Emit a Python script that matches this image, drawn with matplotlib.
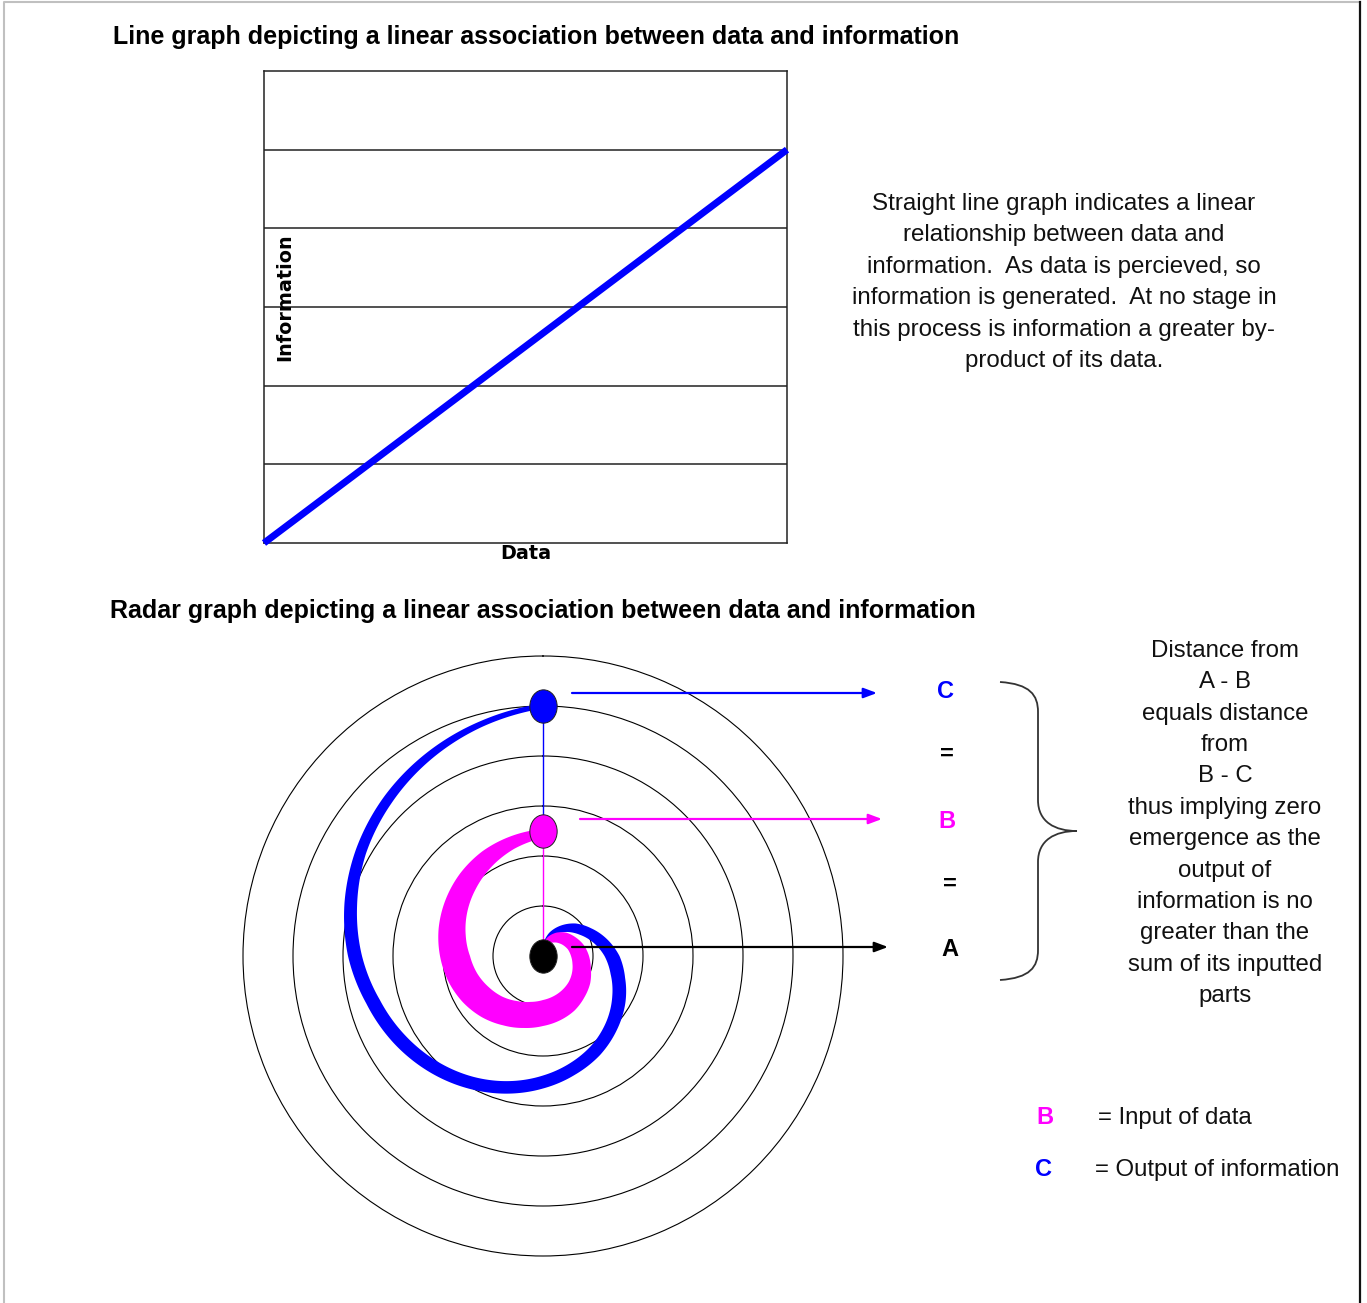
import numpy as np
import matplotlib
matplotlib.use("Agg")
import matplotlib.pyplot as plt
from matplotlib.path import Path
from matplotlib.patches import PathPatch
from matplotlib.transforms import offset_copy

# ---- data: line graph ----
data_x = [0, 1, 2, 3, 4, 5, 6, 7, 8, 9, 10]
info_y = [0, 1, 2, 3, 4, 5, 6, 7, 8, 9, 10]
band_levels = [2, 4, 6, 8, 10]

# ---- data: radar graph (angle clockwise from top, radius in ring units) ----
angle_deg = [0, 15, 30, 45, 60, 75, 90, 105, 120, 135, 150, 165, 180,
             195, 210, 225, 240, 255, 270, 285, 300, 315, 330, 345, 360]
output_r = [0.15, 0.40, 0.60, 0.80, 0.98, 1.18, 1.38, 1.55, 1.75, 1.95, 2.15, 2.33, 2.52,
            2.72, 2.92, 3.12, 3.32, 3.52, 3.76, 3.98, 4.20, 4.40, 4.60, 4.80, 5.00]
output_w = [0.14, 0.16, 0.20, 0.24, 0.26, 0.28, 0.30, 0.30, 0.30, 0.28, 0.27, 0.26, 0.26,
            0.26, 0.26, 0.27, 0.28, 0.28, 0.28, 0.26, 0.22, 0.20, 0.16, 0.12, 0.10]
input_r = [0.15, 0.30, 0.42, 0.52, 0.60, 0.68, 0.74, 0.80, 0.88, 0.95, 1.02, 1.08, 1.14,
           1.22, 1.32, 1.44, 1.55, 1.66, 1.76, 1.88, 2.00, 2.12, 2.24, 2.35, 2.45]
input_w = [0.16, 0.20, 0.24, 0.28, 0.30, 0.33, 0.36, 0.38, 0.42, 0.44, 0.48, 0.50, 0.52,
           0.54, 0.56, 0.58, 0.60, 0.60, 0.60, 0.56, 0.50, 0.44, 0.36, 0.26, 0.18]
ring_levels = [1, 2, 3, 4, 5]
point_names = ["C", "B", "A"]
point_r = [5.0, 2.5, 0.0]
point_colors = ["#0000ff", "#ff00ff", "#000000"]

BLUE = "#0000ff"
MAGENTA = "#ff00ff"
TXT = "#111111"
W, H = 1367, 1303

fig = plt.figure(figsize=(W / 100, H / 100), dpi=100)
fig.patch.set_facecolor("white")


def fx(px):
    return px / W


def fy(py):
    return 1 - py / H


# line graph
ax1 = fig.add_axes([fx(264), fy(543), (787 - 264) / W, (543 - 71) / H])
ax1.plot(data_x, info_y, color=BLUE, lw=5, solid_capstyle="butt", clip_on=False, zorder=3)
ax1.set_xlim(0, 10)
ax1.set_ylim(0, 12)
ax1.set_xticks([])
ax1.set_yticks(band_levels)
ax1.tick_params(left=False, labelleft=False)
ax1.grid(axis="y", color="#222222", lw=1.1)
for sp in ax1.spines.values():
    sp.set_linewidth(1.1)
    sp.set_color("#222222")
ax1.text(0.040, 0.521, "Information", rotation=90, transform=ax1.transAxes,
         ha="center", va="center", fontsize=13.8, fontweight="bold", family="DejaVu Sans")
ax1.text(0.5, -0.002, "Data", transform=ax1.transAxes, ha="center", va="top",
         fontsize=13.8, fontweight="bold", family="DejaVu Sans")

# radar graph
ax2 = fig.add_axes([fx(243), fy(1256), 600 / W, 600 / H], projection="polar")
ax2.set_theta_zero_location("N")
ax2.set_theta_direction(-1)
theta = np.deg2rad(angle_deg)
ax2.set_ylim(0, 6)
ax2.set_xticks([])
ax2.set_yticks(ring_levels)
ax2.set_yticklabels([])
ax2.yaxis.grid(True, color="black", lw=0.8)
ax2.spines["polar"].set_linewidth(0.8)

# spiral bands: outline in (theta, r), curved by the polar transform
for r, w, c in [(output_r, output_w, BLUE), (input_r, input_w, MAGENTA)]:
    r = np.array(r)
    w = np.array(w)
    upper = r + w / 2
    lower = np.maximum(r - w / 2, 0)
    t_all = np.concatenate([theta, theta[::-1], theta[:1]])
    r_all = np.concatenate([upper, lower[::-1], upper[:1]])
    band = Path(np.column_stack([t_all, r_all]), _interpolation_steps=24)
    ax2.add_patch(PathPatch(band, transform=ax2.transData, facecolor=c,
                            edgecolor="none", zorder=3))

# connectors between points
ax2.plot([0, 0], [point_r[1], point_r[0]], color=BLUE, lw=1.0, zorder=4)
ax2.plot([0, 0], [point_r[2], point_r[1]], color=MAGENTA, lw=1.0, zorder=4)

circ = Path.unit_circle()
ellipse = Path(circ.vertices * [0.82, 1.0], circ.codes)
for r, c in zip(point_r, point_colors):
    ax2.plot([0], [r], marker=ellipse, ms=24, mfc=c, mec="#222222", mew=0.7,
             linestyle="none", zorder=5, clip_on=False)

# arrows pointing to the letters
arrow_offsets = [(29, 13, 305), (37, 12, 302), (29, 9, 316)]
for r, c, (dx, dy, length) in zip(point_r, point_colors, arrow_offsets):
    tr = offset_copy(ax2.transData, fig=fig, x=dx, y=dy, units="dots")
    ax2.annotate("", xy=(0, r), xycoords=tr, xytext=(length, 0), textcoords="offset pixels",
                 arrowprops=dict(arrowstyle="<|-,head_length=0.8,head_width=0.3",
                                 color=c, lw=1.6, shrinkA=0, shrinkB=0), annotation_clip=False)

# overlay for titles, notes, brace and frame
ov = fig.add_axes([0, 0, 1, 1])
ov.set_xlim(0, W)
ov.set_ylim(H, 0)
ov.axis("off")

ov.text(113, 37, "Line graph depicting a linear association between data and information",
        ha="left", va="center", fontsize=18, fontweight="bold", family="Liberation Sans")
ov.text(110, 611, "Radar graph depicting a linear association between data and information",
        ha="left", va="center", fontsize=18, fontweight="bold", family="Liberation Sans")

note_top = ["Straight line graph indicates a linear",
            "relationship between data and",
            "information.  As data is percieved, so",
            "information is generated.  At no stage in",
            "this process is information a greater by-",
            "product of its data."]
for i, line in enumerate(note_top):
    ov.text(1064, 204 + i * 31.4, line, ha="center", va="center", fontsize=17.4,
            family="Liberation Sans", color=TXT)

note_right = ["Distance from", "A - B", "equals distance", "from", "B - C",
              "thus implying zero", "emergence as the", "output of",
              "information is no", "greater than the", "sum of its inputted", "parts"]
for i, line in enumerate(note_right):
    ov.text(1225, 651 + i * 31.36, line, ha="center", va="center", fontsize=17.3,
            family="Liberation Sans", color=TXT)

letter_rows = [("C", BLUE, 945, 691), ("=", "black", 947, 754), ("B", MAGENTA, 947, 822),
               ("=", "black", 950, 884), ("A", "black", 950, 950)]
for s, c, x, y in letter_rows:
    ov.text(x, y, s, ha="center", va="center", fontsize=17, fontweight="bold",
            family="Liberation Sans", color=c)

ov.text(1045, 1118, "B", ha="center", va="center", fontsize=17, fontweight="bold",
        family="Liberation Sans", color=MAGENTA)
ov.text(1098, 1118, "= Input of data", ha="left", va="center", fontsize=17.3,
        family="Liberation Sans", color=TXT)
ov.text(1043, 1170, "C", ha="center", va="center", fontsize=17, fontweight="bold",
        family="Liberation Sans", color=BLUE)
ov.text(1095, 1170, "= Output of information", ha="left", va="center", fontsize=17.3,
        family="Liberation Sans", color=TXT)

# curly brace
brace = Path(
    [(1000, 682), (1030, 684), (1038, 695), (1038, 712),
     (1038, 800),
     (1038, 822), (1055, 831), (1077, 831),
     (1055, 831), (1038, 840), (1038, 862),
     (1038, 950),
     (1038, 967), (1030, 978), (1000, 980)],
    [Path.MOVETO, Path.CURVE4, Path.CURVE4, Path.CURVE4,
     Path.LINETO,
     Path.CURVE4, Path.CURVE4, Path.CURVE4,
     Path.CURVE4, Path.CURVE4, Path.CURVE4,
     Path.LINETO,
     Path.CURVE4, Path.CURVE4, Path.CURVE4])
ov.add_patch(PathPatch(brace, fill=False, lw=1.3, edgecolor="#333333"))

# page frame
ov.plot([4, 4, 1360], [H, 2, 2], color="#c0c0c0", lw=1.5)
ov.plot([1360, 1360], [2, H], color=TXT, lw=1.6)

fig.savefig("out.png", dpi=100, facecolor="white")
